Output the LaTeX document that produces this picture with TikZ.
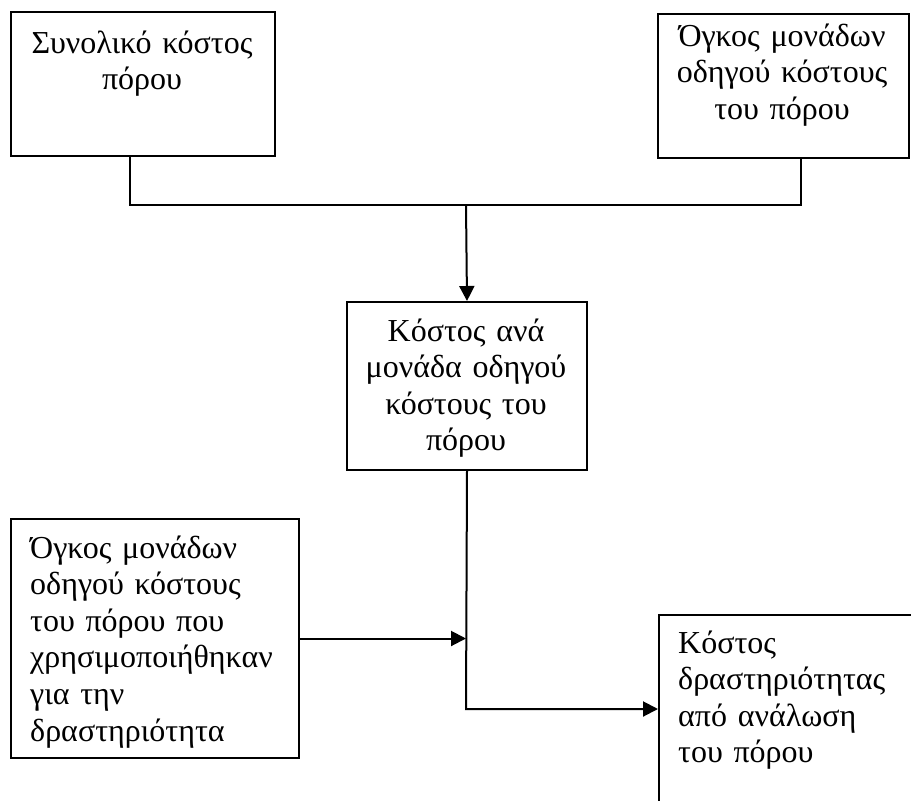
\documentclass[tikz,border=0pt]{standalone}
\usepackage{fontspec}
\setmainfont{Liberation Serif}
\usetikzlibrary{arrows.meta}
\begin{document}
\begin{tikzpicture}[x=1pt,y=-1pt,
  box/.style={draw, line width=2pt, inner sep=0pt, anchor=north west},
  txt/.style={inner sep=0pt, font=\fontsize{32}{36.6}\selectfont},
  ctxt/.style={txt, align=center, anchor=base},
  ltxt/.style={txt, align=left, anchor=base west},
  link/.style={line width=2pt},
  arr/.style={link, -{Triangle[length=15pt,width=15pt]}}]
\useasboundingbox[fill=white] (0,0) rectangle (911,801);

% boxes
\node[box, minimum width=264pt, minimum height=144pt] (b1) at (10,11) {};
\node[box, minimum width=251pt, minimum height=144pt] (b2) at (657,13) {};
\node[box, minimum width=240pt, minimum height=168pt] (b3) at (346,301) {};
\node[box, minimum width=288pt, minimum height=239pt] (b4) at (10,518) {};
\node[box, minimum width=300pt, minimum height=250pt] (b5) at (658,614) {};

% labels
\node[ctxt, text width=262pt] (t1) at (142,53) {Συνολικό κόστος\\πόρου};
\node[ctxt, text width=250pt] (t2) at (782,46) {Όγκος μονάδων\\οδηγού κόστους\\του πόρου};
\node[ctxt, text width=238pt] (t3) at (466,341) {Κόστος ανά\\μονάδα οδηγού\\κόστους του\\πόρου};
\node[ltxt, text width=275pt] (t4) at (30,558) {Όγκος μονάδων\\οδηγού κόστους\\του πόρου που\\χρησιμοποιήθηκαν\\για την\\δραστηριότητα};
\node[ltxt, text width=240pt] (t5) at (678,653) {Κόστος\\δραστηριότητας\\από ανάλωση\\του πόρου};

% junction points
\coordinate (jl) at (130,205);
\coordinate (jr) at (801,205);
\coordinate (jm) at (466,205);
\coordinate (jb) at (466,709);

% connectors
\draw[link] (b1.south -| jl) -- (jl) -- (jr) -- (b2.south -| jr);
\draw[arr] (jm) -- (b3.north);
\draw[arr] (b3.south) -- (jb) -- (b5.west |- jb);
\draw[arr] (b4.east) -- (b4.east -| jb);
\end{tikzpicture}
\end{document}
